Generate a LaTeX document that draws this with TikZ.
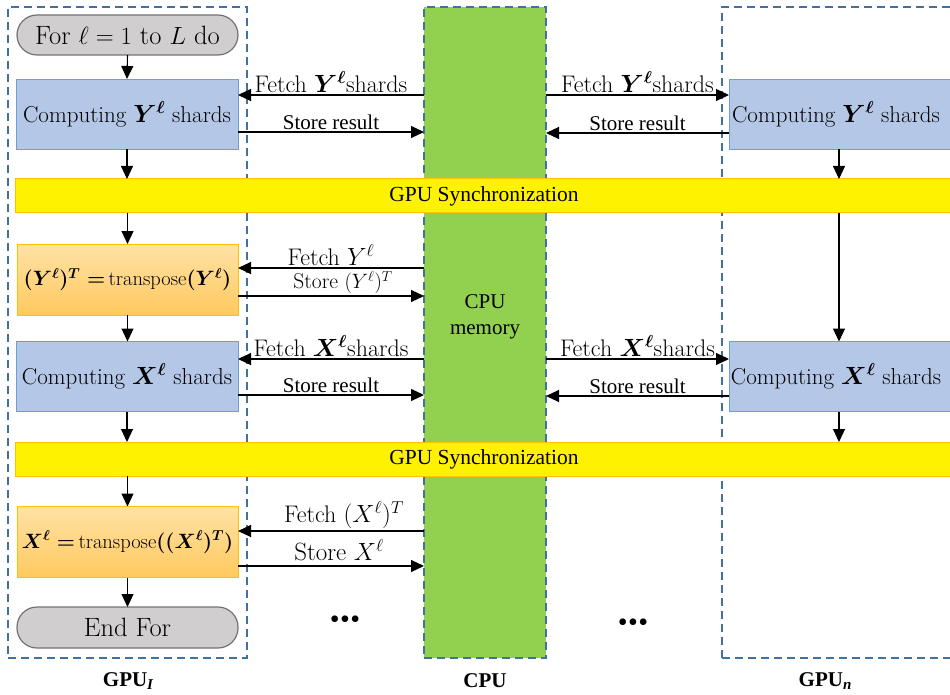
\documentclass[tikz,border=0pt]{standalone}
\usepackage{amsmath,bm}
\usepackage{fontspec}
\newfontfamily\tnr{Liberation Serif}
\usetikzlibrary{arrows.meta}
\definecolor{dashblue}{HTML}{41719C}
\definecolor{boxblue}{HTML}{B4C7E7}
\definecolor{boxblueline}{HTML}{6A9FD8}
\definecolor{cpugreen}{HTML}{92D050}
\definecolor{termfill}{HTML}{D0CECE}
\definecolor{termline}{HTML}{767171}
\definecolor{orangetop}{HTML}{FFE2A6}
\definecolor{orangebot}{HTML}{FFC95E}
\definecolor{orangeline}{HTML}{FFC000}
\definecolor{syncline}{HTML}{FFC000}
\begin{document}
\begin{tikzpicture}[x=1pt,y=-1pt,
  every node/.style={inner sep=0pt, outer sep=0pt},
  regionbox/.style={draw=dashblue, line width=1.6pt, dash pattern=on 8pt off 5pt},
  compbox/.style={draw=boxblueline, fill=boxblue, line width=0.8pt, minimum height=70pt,
    font=\fontsize{23}{27}\selectfont},
  tbox/.style={draw=orangeline, top color=orangetop, bottom color=orangebot, line width=0.8pt,
    minimum width=221pt, minimum height=71pt, font=\fontsize{20.5}{24}\selectfont},
  term/.style={draw=termline, fill=termfill, line width=1.2pt, rounded corners=20pt,
    minimum width=221pt, minimum height=40pt, font=\fontsize{26.5}{30}\selectfont},
  syncbar/.style={draw=syncline, fill=yellow, line width=1pt, minimum width=938pt,
    minimum height=34pt, font=\tnr\fontsize{21.5}{25}\selectfont},
  arr/.style={-{Triangle[length=13pt,width=12pt]}, line width=1.1pt},
  lab/.style={above=2pt, font=\fontsize{24}{28}\selectfont},
  tlab/.style={above=2pt, font=\tnr\fontsize{21}{25}\selectfont},
  bottomlab/.style={font=\tnr\bfseries\fontsize{21}{25}\selectfont},
  dots/.style={font=\tnr\fontsize{28}{30}\selectfont}
]
\useasboundingbox (0,0) rectangle (950,695);
\clip (0,0) rectangle (950,695);

% regions
\node[regionbox, minimum width=239pt, minimum height=651pt] (gpu1) at (127.5,332.5) {};
\node[regionbox, minimum width=250pt, minimum height=651pt] (gpun) at (847,332.5) {};
\node[regionbox, fill=cpugreen, minimum width=122pt, minimum height=651pt] (cpu) at (485,332.5) {};
\node[font=\tnr\fontsize{21}{26}\selectfont, align=center] (cpumem) at (485,317) {CPU\\memory};

% left column
\node[term] (for) at (127.5,35) {For $\ell = 1$ to $L$ do};
\node[compbox, minimum width=222pt] (cy1) at (127,114) {Computing $\bm{Y^{\ell}}$ shards};
\node[syncbar] (sync1) at (484,196) {GPU Synchronization};
\node[tbox] (ty) at (127.5,279.5) {{\boldmath$(Y^{\ell})^{T} =$}\,transpose{\boldmath$(Y^{\ell})$}};
\node[compbox, minimum width=222pt] (cx1) at (127,376.5) {Computing $\bm{X^{\ell}}$ shards};
\node[syncbar] (sync2) at (484,459) {GPU Synchronization};
\node[tbox] (tx) at (127.5,542) {{\boldmath$X^{\ell} =$}\,transpose{\boldmath$((X^{\ell})^{T})$}};
\node[term, minimum height=41pt] (endfor) at (127.5,627.5) {End For};

% right column
\node[compbox, minimum width=226pt, anchor=west] (cyn) at (729,114.5) {\hspace*{-6pt}Computing $\bm{Y^{\ell}}$ shards\hspace*{6pt}};
\node[compbox, minimum width=226pt, anchor=west] (cxn) at (729,376.5) {\hspace*{-6pt}Computing $\bm{X^{\ell}}$ shards\hspace*{6pt}};
\coordinate (rc) at (839,0);

% vertical flow arrows left
\draw[arr] (for.south) -- (cy1.north);
\draw[arr] (cy1.south) -- (sync1.north -| cy1.south);
\draw[arr] (sync1.south -| ty.north) -- (ty.north);
\draw[arr] (ty.south) -- (cx1.north -| ty.south);
\draw[arr] (cx1.south) -- (sync2.north -| cx1.south);
\draw[arr] (sync2.south -| tx.north) -- (tx.north);
\draw[arr] (tx.south) -- (endfor.north);

% vertical flow arrows right
\draw[arr] (cyn.south -| rc) -- (sync1.north -| rc);
\draw[arr] (sync1.south -| rc) -- (cxn.north -| rc);
\draw[arr] (cxn.south -| rc) -- (sync2.north -| rc);

% horizontal arrows, Y shards
\draw[arr] ([yshift=19pt]cpu.west |- cy1.east) -- node[lab]{Fetch $\bm{Y^{\ell}}$shards} ([yshift=19pt]cy1.east);
\draw[arr] ([yshift=-18pt]cy1.east) -- node[tlab]{Store result} ([yshift=-18pt]cpu.west |- cy1.east);
\draw[arr] ([yshift=19.5pt]cpu.east |- cyn.west) -- node[lab]{Fetch $\bm{Y^{\ell}}$shards} ([yshift=19.5pt]cyn.west);
\draw[arr] ([yshift=-18.5pt]cyn.west) -- node[tlab]{Store result} ([yshift=-18.5pt]cpu.east |- cyn.west);

% transpose Y
\draw[arr] ([yshift=11.5pt]cpu.west |- ty.east) -- node[lab]{Fetch $Y^{\ell}$} ([yshift=11.5pt]ty.east);
\draw[arr] ([yshift=-16.5pt]ty.east) -- node[lab, above=0pt, xshift=12pt, font=\fontsize{21.5}{25}\selectfont]{Store $(Y^{\ell})^{T}$} ([yshift=-16.5pt]cpu.west |- ty.east);

% X shards
\draw[arr] ([yshift=17.5pt]cpu.west |- cx1.east) -- node[lab]{Fetch $\bm{X^{\ell}}$shards} ([yshift=17.5pt]cx1.east);
\draw[arr] ([yshift=-18.5pt]cx1.east) -- node[tlab]{Store result} ([yshift=-18.5pt]cpu.west |- cx1.east);
\draw[arr] ([yshift=17.5pt]cpu.east |- cxn.west) -- node[lab]{Fetch $\bm{X^{\ell}}$shards} ([yshift=17.5pt]cxn.west);
\draw[arr] ([yshift=-19.5pt]cxn.west) -- node[tlab]{Store result} ([yshift=-19.5pt]cpu.east |- cxn.west);

% transpose X
\draw[arr] ([yshift=11pt]cpu.west |- tx.east) -- node[lab, xshift=13pt]{Fetch $(X^{\ell})^{T}$} ([yshift=11pt]tx.east);
\draw[arr] ([yshift=-24pt]tx.east) -- node[lab, above=3pt, xshift=8pt, font=\fontsize{25}{29}\selectfont]{Store $X^{\ell}$} ([yshift=-24pt]cpu.west |- tx.east);

% dots
\node[dots] (dl) at (345,622) {\textbullet\hspace{0.5pt}\textbullet\hspace{0.5pt}\textbullet};
\node[dots] (dr) at (633,625) {\textbullet\hspace{0.5pt}\textbullet\hspace{0.5pt}\textbullet};

% bottom labels
\node[bottomlab] (l1) at (128,681) {GPU\raisebox{-0.3ex}{\fontsize{15}{17}\selectfont\itshape I}};
\node[bottomlab] (l2) at (485,681) {CPU};
\node[bottomlab] (l3) at (825,681) {GPU\raisebox{-0.3ex}{\fontsize{15}{17}\selectfont\itshape n}};
\end{tikzpicture}
\end{document}
